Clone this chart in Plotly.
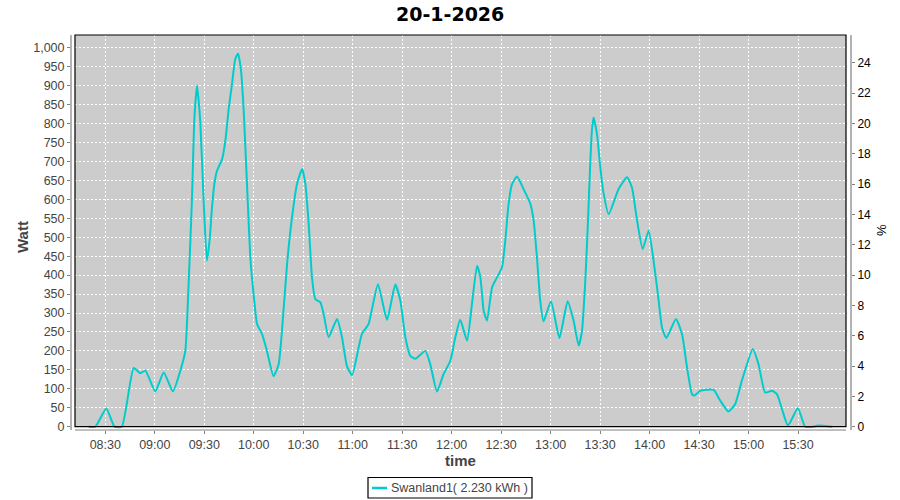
import pandas as pd
import plotly.graph_objects as go

# time of each reading, minutes after midnight on 20-1-2026
minutes = [500, 504, 510.6, 515.6, 520, 527.2, 531.2, 534.3, 540.3, 545.4, 551, 555.5, 558.5,
           560.5, 562.5, 564, 565.6, 567.6, 569.7, 571.6, 573.2, 574.7, 576.1, 577.7, 580.8,
           582.8, 584.8, 586.8, 588.8, 590.5, 592.3, 593.9, 595.9, 597.9, 599.9, 602, 605, 608,
           612, 615.1, 617.1, 620.2, 623.2, 626.2, 629.3, 631.3, 633.3, 635.3, 637.3, 640.4,
           642.4, 645.4, 650.5, 653.5, 656.5, 659.6, 663.6, 665.6, 669.6, 675.3, 680.8, 685.8,
           688.9, 691.9, 694.9, 698, 704, 707, 711.1, 715.1, 719.2, 722.2, 725.2, 729.3, 732.3,
           735.4, 737.4, 739.4, 741.4, 744.5, 747.5, 750.5, 752.5, 754.5, 756.6, 759.6, 763.6,
           767.7, 769.7, 771.7, 773.7, 775.7, 780.2, 785.3, 790.3, 793.9, 797, 799, 801, 802.4,
           804, 805, 806, 808.1, 810.1, 811.8, 815.2, 821.2, 826.3, 829.3, 832.4, 835.8, 839.4,
           842.4, 845.5, 847.5, 850.1, 856, 859.6, 862.7, 865.7, 867.1, 870.7, 878.8, 882.8,
           887.8, 891.9, 895.9, 902.6, 906, 910.1, 914.2, 917.2, 920.2, 923.9, 929.9, 934.3,
           939.2, 942, 950.8]
watt = [0, 0, 48, 0, 0, 155, 141, 148, 93, 143, 93, 148, 200,
        376, 596, 812, 900, 803, 588, 438, 491, 579, 640, 675, 706,
        755, 838, 904, 970, 985, 939, 834, 640, 447, 350, 271, 245, 200,
        133, 165, 253, 429, 552, 640, 680, 640, 535, 394, 337, 328,
        297, 236, 284, 236, 160, 136, 209, 245, 271, 376, 282, 375,
        332, 236, 187, 179, 200, 165, 93, 139, 174, 236, 282, 227, 324,
        425, 394, 306, 280, 368, 394, 420, 491, 588, 640, 660, 627,
        588, 544, 447, 332, 278, 331, 234, 331, 280, 214, 253, 385, 517,
        693, 781, 816, 772, 684, 623, 561, 627, 658, 631, 544, 469, 517,
        438, 332, 262, 234, 284, 245, 156, 86, 82, 95, 97, 69,
        40, 60, 121, 205, 165, 90, 95, 86, 47, 3, 49, 0,
        0, 3, 0]
x_tick_labels = ["08:30", "09:00", "09:30", "10:00", "10:30", "11:00", "11:30", "12:00",
                 "12:30", "13:00", "13:30", "14:00", "14:30", "15:00", "15:30"]
series_name = "Swanland1( 2.230 kWh )"
title_text = "20-1-2026"
day = "2026-01-20"
capacity_w = 40  # watt per percent on the right axis

times = pd.Timestamp(day) + pd.to_timedelta(minutes, unit="m")
percent = [w / capacity_w for w in watt]
tickvals = [pd.Timestamp(day + " " + t) for t in x_tick_labels]

LINE = "#00CCCC"
GREY = "#808080"
TXT = "#444444"
FONT = "Liberation Sans"

fig = go.Figure()
fig.add_trace(go.Scatter(x=times, y=watt, mode="lines", name=series_name, showlegend=False,
                         line=dict(color=LINE, width=2, shape="spline", smoothing=0.5)))
fig.add_trace(go.Scatter(x=times, y=percent, mode="lines", yaxis="y2", showlegend=False,
                         hoverinfo="skip", line=dict(color="rgba(0,0,0,0)", width=0)))

W, H = 900, 500
L, R, T, B = 71, 851, 35, 430          # axis lines (px)
pw, ph = R - L, B - T
BL, BR, BB = 75, 846, 426.7            # plot border (px)

ymin, ymax = -8.7, 1033.5
axis_common = dict(showline=False, zeroline=False, ticks="outside", ticklen=3, tickcolor=GREY,
                   automargin=False)
fig.update_layout(
    width=W, height=H,
    margin=dict(l=L, r=W - R, t=T, b=H - B, pad=0, autoexpand=False),
    paper_bgcolor="white", plot_bgcolor="white",
    font=dict(family=FONT, size=12.5, color=TXT),
    showlegend=False,
    xaxis=dict(type="date", range=["2026-01-20 08:09:12", "2026-01-20 16:02:06"],
               tickmode="array", tickvals=tickvals, ticktext=x_tick_labels,
               showgrid=True, gridcolor="white", griddash="2px,2px", gridwidth=1,
               tickfont=dict(size=12.5, color=TXT), **axis_common),
    yaxis=dict(range=[ymin, ymax], dtick=50, tick0=0, tickformat=",d",
               showgrid=True, gridcolor="white", griddash="2px,2px", gridwidth=1,
               tickfont=dict(size=12.5, color=TXT), **axis_common),
    yaxis2=dict(range=[ymin / capacity_w, ymax / capacity_w], dtick=2, tick0=0,
                overlaying="y", side="right", showgrid=False,
                tickfont=dict(size=12, color="black"), **axis_common),
)

fx = lambda px: (px - L) / pw
fy = lambda py: (B - py) / ph
shapes = [
    dict(type="rect", xref="paper", yref="paper", x0=fx(BL), x1=fx(BR), y0=fy(BB), y1=1,
         fillcolor="#CCCCCC", line=dict(width=0), layer="below"),
    dict(type="rect", xref="paper", yref="paper", x0=fx(BL), x1=fx(BR), y0=fy(BB), y1=1,
         line=dict(color="black", width=1.2), layer="above"),
    dict(type="line", xref="paper", yref="paper", x0=0, x1=0, y0=0, y1=1,
         line=dict(color=GREY, width=1.2), layer="above"),
    dict(type="line", xref="paper", yref="paper", x0=1, x1=1, y0=0, y1=1,
         line=dict(color=GREY, width=1.2), layer="above"),
    dict(type="line", xref="paper", yref="paper", x0=fx(BL), x1=fx(BR), y0=0, y1=0,
         line=dict(color=GREY, width=1.2), layer="above"),
    # legend box and sample line
    dict(type="rect", xref="paper", yref="paper", x0=fx(368), x1=fx(532), y0=fy(498), y1=fy(477.5),
         fillcolor="white", line=dict(color="black", width=1.2), layer="above"),
    dict(type="line", xref="paper", yref="paper", x0=fx(372), x1=fx(387), y0=fy(488), y1=fy(488),
         line=dict(color=LINE, width=2.5), layer="above"),
]
fig.update_layout(shapes=shapes)

def label(text, px, py, size, color, angle=0, xanchor="center", family=FONT):
    fig.add_annotation(text=text, xref="paper", yref="paper", x=fx(px), y=fy(py),
                       xanchor=xanchor, yanchor="middle", textangle=angle, showarrow=False,
                       borderpad=0, font=dict(size=size, color=color, family=family))

label("<b>" + title_text + "</b>", 450, 14, 19, "black", family="DejaVu Sans")
label("<b>Watt</b>", 22, 237, 15, TXT, angle=-90)
label("%", 881, 230, 13, "black", angle=-90)
label("<b>time</b>", 460, 460, 15, TXT)
label(series_name, 390, 488, 12.5, TXT, xanchor="left")

fig.write_html("out.html", config={"displayModeBar": False},
               post_script="document.body.style.margin='0';document.body.style.overflow='hidden';")
